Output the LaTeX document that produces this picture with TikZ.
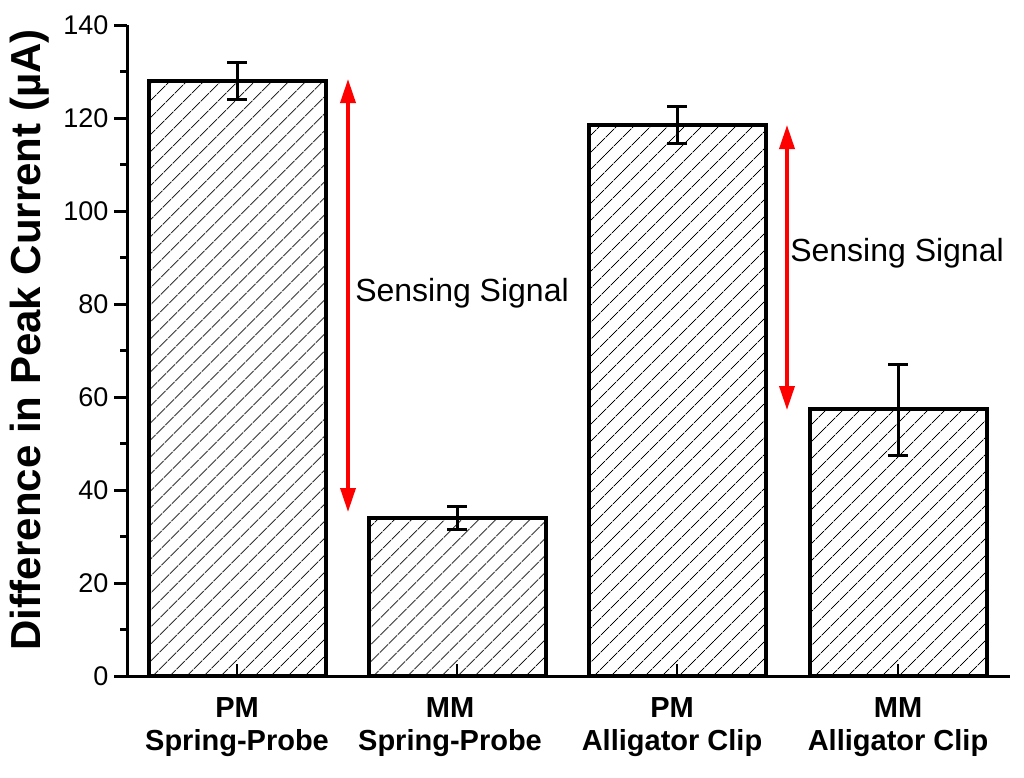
\documentclass[tikz,border=0pt]{standalone}
\usepackage{fontspec}
\setmainfont{Liberation Sans}
\usetikzlibrary{patterns.meta,arrows.meta}
\begin{document}
\begin{tikzpicture}[x=1pt,y=-1pt,
  bar/.style={line width=4pt,pattern={Lines[angle=45,distance=13pt,line width=0.9pt]}},
  err/.style={line width=3pt},
  sig/.style={red,line width=3.5pt,{Triangle[length=24pt,width=15pt]}-{Triangle[length=24pt,width=15pt]}},
  ticklab/.style={font=\fontsize{27}{27}\selectfont,anchor=east},
  xlab/.style={font=\bfseries\fontsize{29}{33}\selectfont,align=center}]
\useasboundingbox (0,0) rectangle (1024,777);
% bars
\foreach \c/\v [count=\i] in {237/128,457/34,677/118.5,898/57.5}{
  \draw[bar] (\c-88.5,676) rectangle (\c+88.5,{676-\v*4.65});
  \draw[line width=2pt] (\c,676) -- (\c,664);
}
% error bars
\foreach \c/\lo/\hi in {237/124/132,457/31.5/36.5,677/114.5/122.5,898/47.5/67}{
  \draw[err] (\c,{676-\lo*4.65}) -- (\c,{676-\hi*4.65});
  \draw[err] (\c-10,{676-\lo*4.65}) -- (\c+10,{676-\lo*4.65});
  \draw[err] (\c-10,{676-\hi*4.65}) -- (\c+10,{676-\hi*4.65});
}
% axes
\draw[line width=3pt] (127,25) -- (127,676) -- (1010,676);
\foreach \v in {0,20,...,140}{
  \draw[line width=3pt] (127,{676-\v*4.65}) -- (114,{676-\v*4.65});
  \node[ticklab] (t\v) at (112,{676-\v*4.65}) {\v};
}
\foreach \v in {10,30,...,130}
  \draw[line width=3pt] (127,{676-\v*4.65}) -- (120,{676-\v*4.65});
\node[rotate=90,font=\bfseries\fontsize{42}{42}\selectfont] (yl) at (30,340) {Difference in Peak Current (µA)};
% x labels
\node[xlab] (l1) at (237,727) {PM\\Spring-Probe};
\node[xlab] (l2) at (450,727) {MM\\Spring-Probe};
\node[xlab] (l3) at (672,727) {PM\\Alligator Clip};
\node[xlab] (l4) at (898,727) {MM\\Alligator Clip};
% signals
\coordinate (a1) at (348,79);
\coordinate (b1) at (348,512);
\draw[sig] (a1) -- (b1);
\node[font=\fontsize{32}{32}\selectfont] (s1) at (462,293) {Sensing Signal};
\coordinate (a2) at (787,125);
\coordinate (b2) at (787,410);
\draw[sig] (a2) -- (b2);
\node[font=\fontsize{32}{32}\selectfont] (s2) at (897,253) {Sensing Signal};
\end{tikzpicture}
\end{document}
